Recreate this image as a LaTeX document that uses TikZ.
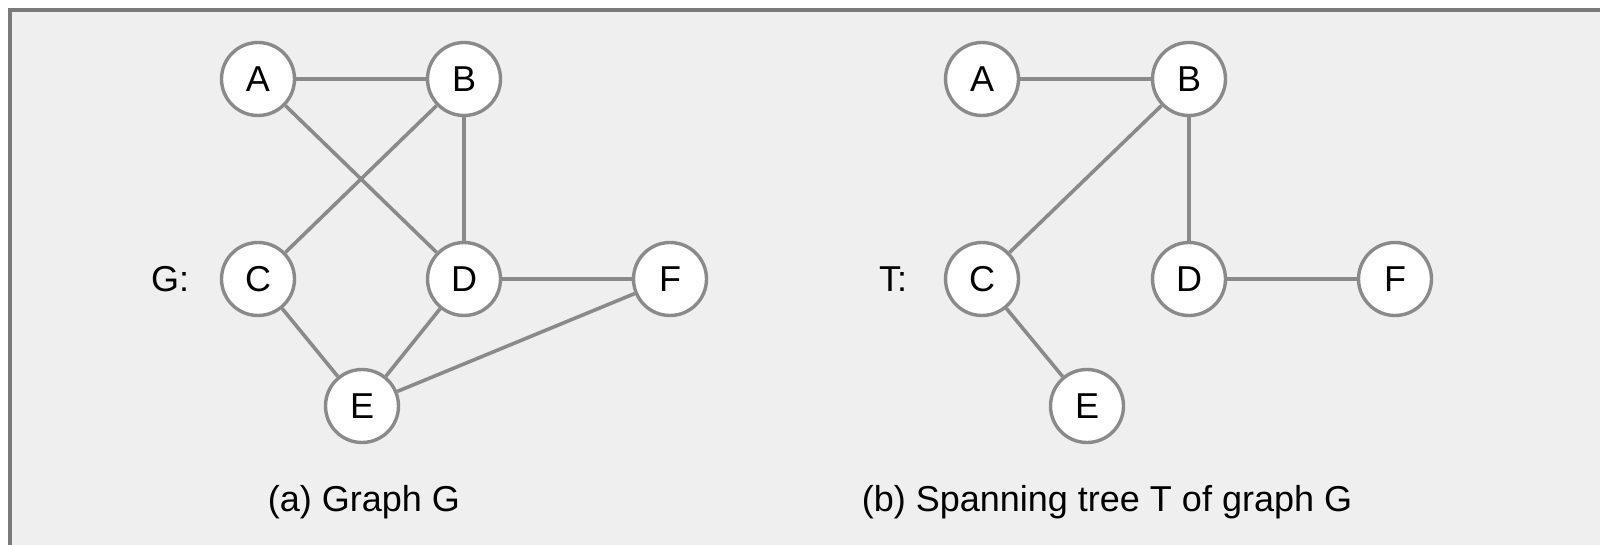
\documentclass[tikz,border=0pt]{standalone}
\usepackage{fontspec}
\setmainfont{Liberation Sans}
\definecolor{panel}{HTML}{EFEFEF}
\definecolor{edgegray}{HTML}{8A8A8A}
\definecolor{framegray}{HTML}{7A7A7A}
\begin{document}
\begin{tikzpicture}[x=0.5pt,y=-0.5pt,
  vertex/.style={circle,draw=edgegray,fill=white,line width=1.7pt,minimum size=36.5pt,inner sep=0pt,font=\fontsize{18}{20}\selectfont},
  edge/.style={draw=edgegray,line width=1.8pt},
  lbl/.style={font=\fontsize{18}{20}\selectfont,inner sep=0pt},
  caption/.style={font=\fontsize{18}{20}\selectfont,inner sep=0pt}]
\useasboundingbox (0,0) rectangle (1600,545);
\fill[white] (0,0) rectangle (1600,545);
% panel with its frame running off the right and bottom edges
\draw[framegray,fill=panel,line width=1.8pt] (10,10) rectangle (1620,565);

% (a) graph G
\node[vertex] (a) at (258,79) {A};
\node[vertex] (b) at (464,79) {B};
\node[vertex] (c) at (258,279) {C};
\node[vertex] (d) at (464,279) {D};
\node[vertex] (f) at (670,279) {F};
\node[vertex] (e) at (362,406) {E};
\node[lbl] (glabel) at (170,279) {G:};
\draw[edge] (a) -- (b);
\draw[edge] (a) -- (d);
\draw[edge] (b) -- (c);
\draw[edge] (b) -- (d);
\draw[edge] (d) -- (f);
\draw[edge] (c) -- (e);
\draw[edge] (d) -- (e);
\draw[edge] (e) -- (f);
\node[caption] (capa) at (364,502) {(a) Graph G};

% (b) spanning tree T
\node[vertex] (ta) at (982,79) {A};
\node[vertex] (tb) at (1189,79) {B};
\node[vertex] (tc) at (982,279) {C};
\node[vertex] (td) at (1189,279) {D};
\node[vertex] (tf) at (1395,279) {F};
\node[vertex] (te) at (1087,406) {E};
\node[lbl] (tlabel) at (893,279) {T:};
\draw[edge] (ta) -- (tb);
\draw[edge] (tb) -- (tc);
\draw[edge] (tb) -- (td);
\draw[edge] (td) -- (tf);
\draw[edge] (tc) -- (te);
\node[caption] (capb) at (1107,502) {(b) Spanning tree T of graph G};
\end{tikzpicture}
\end{document}
